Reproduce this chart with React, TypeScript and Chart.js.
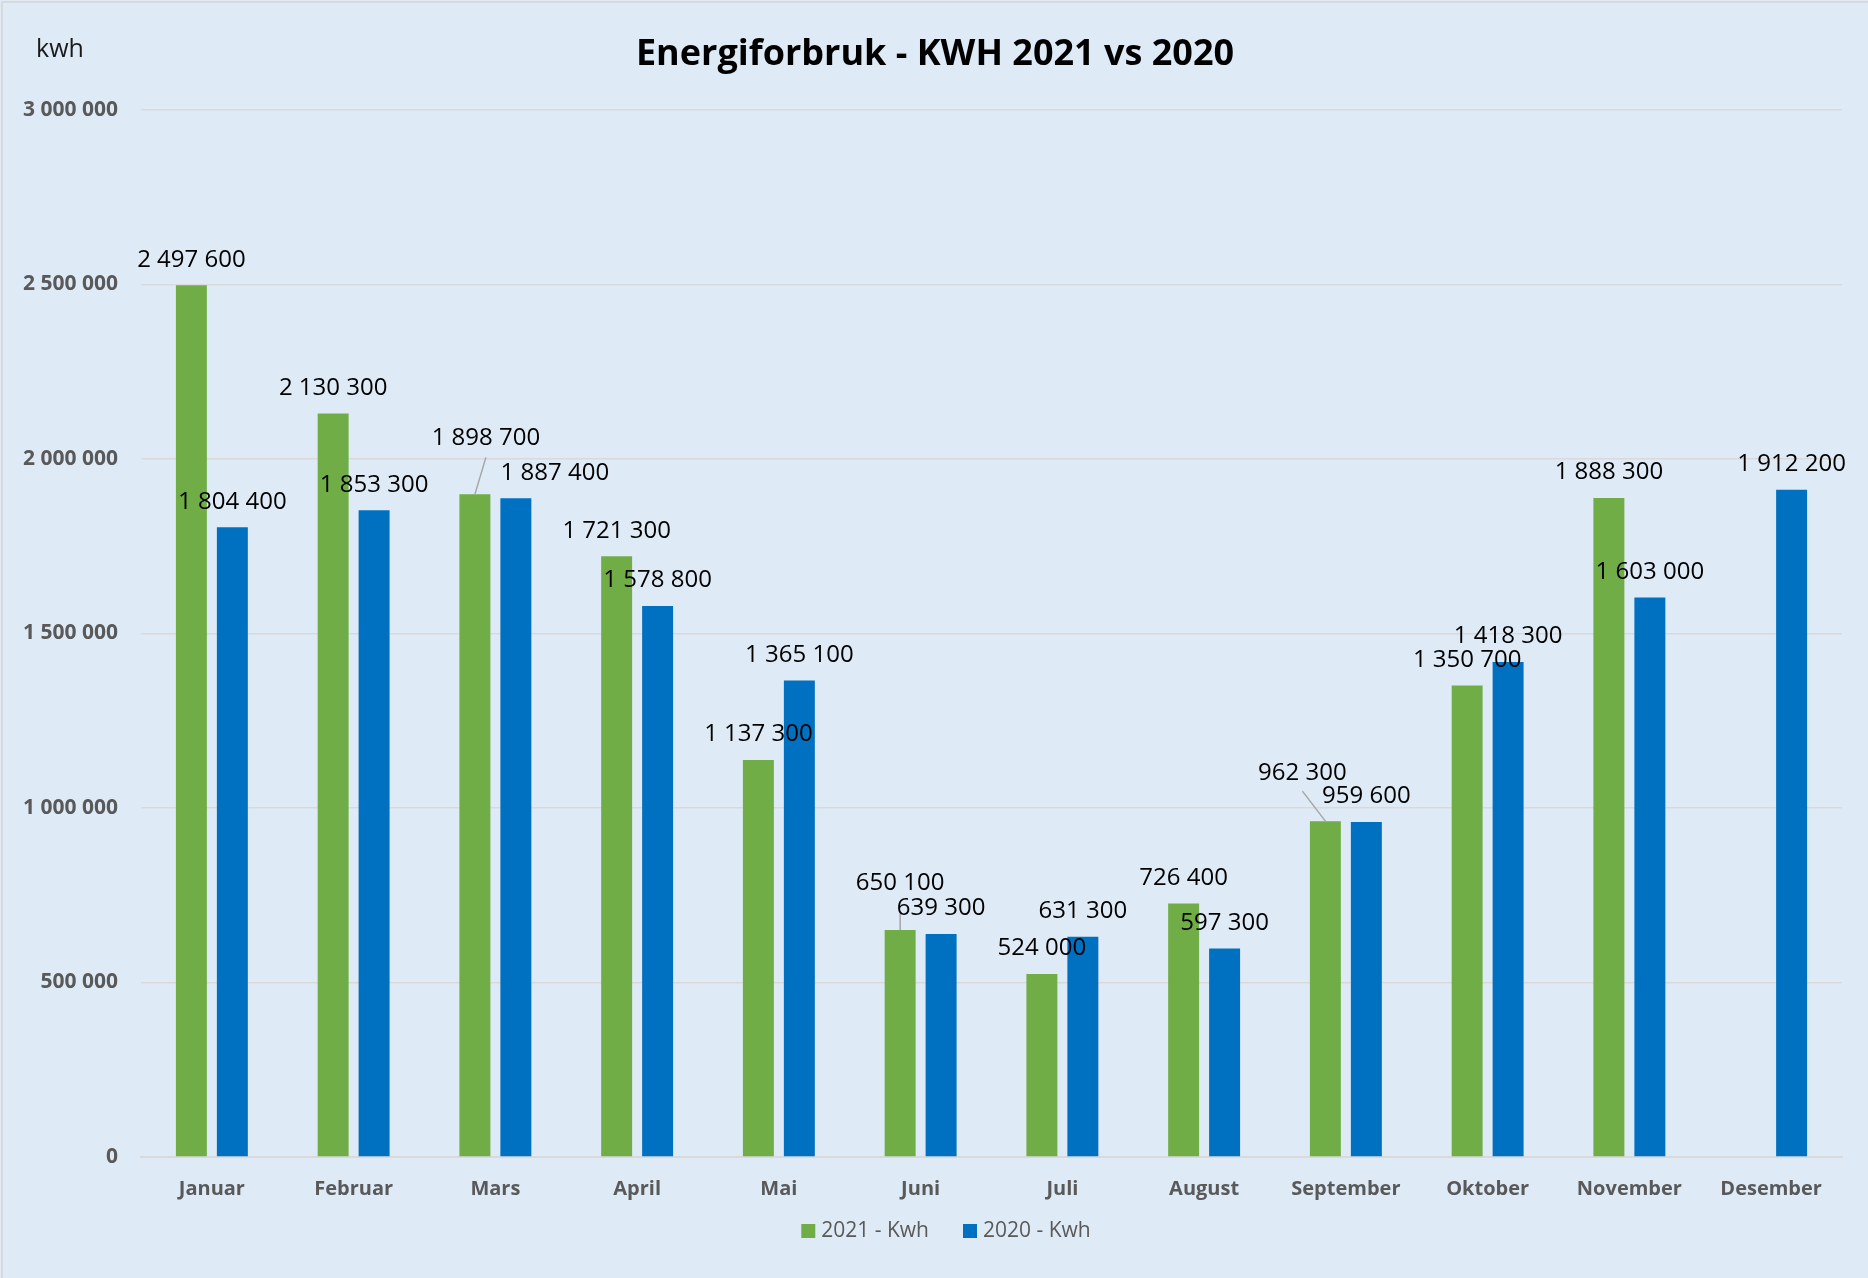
import React, { useEffect, useRef } from "react";
import { Chart, registerables } from "chart.js";

Chart.register(...registerables);

const MONTHS = [
  "Januar", "Februar", "Mars", "April", "Mai", "Juni",
  "Juli", "August", "September", "Oktober", "November", "Desember",
];
const KWH_2021: (number | null)[] = [
  2497600, 2130300, 1898700, 1721300, 1137300, 650100,
  524000, 726400, 962300, 1350700, 1888300, null,
];
const KWH_2020: (number | null)[] = [
  1804400, 1853300, 1887400, 1578800, 1365100, 639300,
  631300, 597300, 959600, 1418300, 1603000, 1912200,
];
const SERIES_NAMES = ["2021 - Kwh", "2020 - Kwh"];
const Y_TICKS = [0, 500000, 1000000, 1500000, 2000000, 2500000, 3000000];
const TITLE = "Energiforbruk - KWH 2021 vs 2020";
const UNIT = "kwh";

const GREEN = "#70AD47";
const BLUE = "#0070C0";
const BG = "#DEEBF7";
const AXIS_TEXT = "#595959";
const GRID = "#D9D9D9";
const FONT = "'Open Sans', 'DejaVu Sans', sans-serif";

// manual label nudges (layout only): dataset-index -> offsets in px
const LABEL_NUDGES: Record<string, { dx: number; dy: number; leader?: number }> = {
  "0-2": { dx: 11, dy: -30.5, leader: 19 },
  "0-5": { dx: 0, dy: -21, leader: 30 },
  "0-8": { dx: -23, dy: -22.5, leader: 18 },
  "1-2": { dx: 39, dy: 0 },
};

const fmt = (n: number) =>
  String(Math.round(n)).replace(/\B(?=(\d{3})+(?!\d))/g, " ");

const decorPlugin = {
  id: "decor",
  beforeDraw(chart: any) {
    const { ctx, width, height } = chart;
    ctx.save();
    ctx.fillStyle = BG;
    ctx.fillRect(0, 0, width, height);
    ctx.strokeStyle = GRID;
    ctx.lineWidth = 2;
    ctx.strokeRect(2, 2, width + 10, height + 10);
    ctx.restore();
  },
  afterDatasetsDraw(chart: any) {
    const { ctx } = chart;
    ctx.save();
    ctx.font = `24px ${FONT}`;
    ctx.textAlign = "center";
    ctx.textBaseline = "middle";
    chart.data.datasets.forEach((ds: any, di: number) => {
      const meta = chart.getDatasetMeta(di);
      meta.data.forEach((bar: any, i: number) => {
        const v = ds.data[i];
        if (v === null || v === undefined) return;
        const nudge = LABEL_NUDGES[`${di}-${i}`] || { dx: 0, dy: 0 };
        const lx = bar.x + nudge.dx;
        const ly = bar.y - 25.5 + nudge.dy;
        if (nudge.leader) {
          ctx.strokeStyle = "#A6A6A6";
          ctx.lineWidth = 1.5;
          ctx.beginPath();
          ctx.moveTo(bar.x, bar.y);
          ctx.lineTo(lx, ly + nudge.leader);
          ctx.stroke();
        }
        ctx.fillStyle = "#000000";
        ctx.fillText(fmt(v), lx, ly);
      });
    });
    ctx.restore();
  },
  afterDraw(chart: any) {
    const { ctx } = chart;
    ctx.save();
    // title
    ctx.fillStyle = "#000000";
    ctx.font = `bold 36px ${FONT}`;
    ctx.textAlign = "center";
    ctx.textBaseline = "middle";
    ctx.fillText(TITLE, 935, 55);
    // unit
    ctx.font = `25px ${FONT}`;
    ctx.textAlign = "left";
    ctx.fillStyle = "#1A1A1A";
    ctx.fillText(UNIT, 36, 50);
    // legend
    ctx.font = `21px ${FONT}`;
    const colors = [GREEN, BLUE];
    const box = 14;
    const gapBox = 6;
    const gapItem = 34;
    const widths = SERIES_NAMES.map((s) => ctx.measureText(s).width);
    const total =
      widths.reduce((a, w) => a + box + gapBox + w, 0) + gapItem * (SERIES_NAMES.length - 1);
    let x = 946 - total / 2;
    const y = 1231;
    SERIES_NAMES.forEach((s, i) => {
      ctx.fillStyle = colors[i];
      ctx.fillRect(x, y - box / 2, box, box);
      x += box + gapBox;
      ctx.fillStyle = AXIS_TEXT;
      ctx.textBaseline = "middle";
      ctx.fillText(s, x, y);
      x += widths[i] + gapItem;
    });
    ctx.restore();
  },
};

export default function App() {
  const ref = useRef<HTMLCanvasElement | null>(null);

  useEffect(() => {
    if (!ref.current) return;
    const chart = new Chart(ref.current, {
      type: "bar",
      data: {
        labels: MONTHS,
        datasets: [
          {
            label: SERIES_NAMES[0],
            data: KWH_2021,
            backgroundColor: GREEN,
            categoryPercentage: 0.578,
            barPercentage: 0.756,
          },
          {
            label: SERIES_NAMES[1],
            data: KWH_2020,
            backgroundColor: BLUE,
            categoryPercentage: 0.578,
            barPercentage: 0.756,
          },
        ],
      },
      options: {
        responsive: false,
        animation: false,
        devicePixelRatio: 1,
        layout: { padding: { left: 0, right: 26, top: 110, bottom: 61 } },
        plugins: {
          legend: { display: false },
          title: { display: false },
          tooltip: { enabled: false },
        },
        scales: {
          x: {
            grid: { display: false, drawTicks: false },
            border: { display: true, color: GRID, width: 2 },
            ticks: {
              color: AXIS_TEXT,
              font: { family: FONT, size: 20, weight: "bold" },
              padding: 20,
              maxRotation: 0,
              autoSkip: false,
            },
            afterFit: (scale: any) => {
              scale.height = 60;
            },
          },
          y: {
            min: 0,
            max: 3000000,
            afterBuildTicks: (scale: any) => {
              scale.ticks = Y_TICKS.map((v) => ({ value: v }));
            },
            grid: { color: GRID, lineWidth: 1.5, drawTicks: false },
            border: { display: false },
            ticks: {
              color: AXIS_TEXT,
              font: { family: FONT, size: 21, weight: "bold" },
              padding: 23,
              callback: (v: any) => fmt(Number(v)),
            },
            afterFit: (scale: any) => {
              scale.width = 141;
            },
          },
        },
      },
      plugins: [decorPlugin],
    });
    return () => chart.destroy();
  }, []);

  return (
    <div style={{ position: "absolute", left: 0, top: 0, width: 1868, height: 1278 }}>
      <canvas ref={ref} width={1868} height={1278} style={{ display: "block" }} />
    </div>
  );
}
